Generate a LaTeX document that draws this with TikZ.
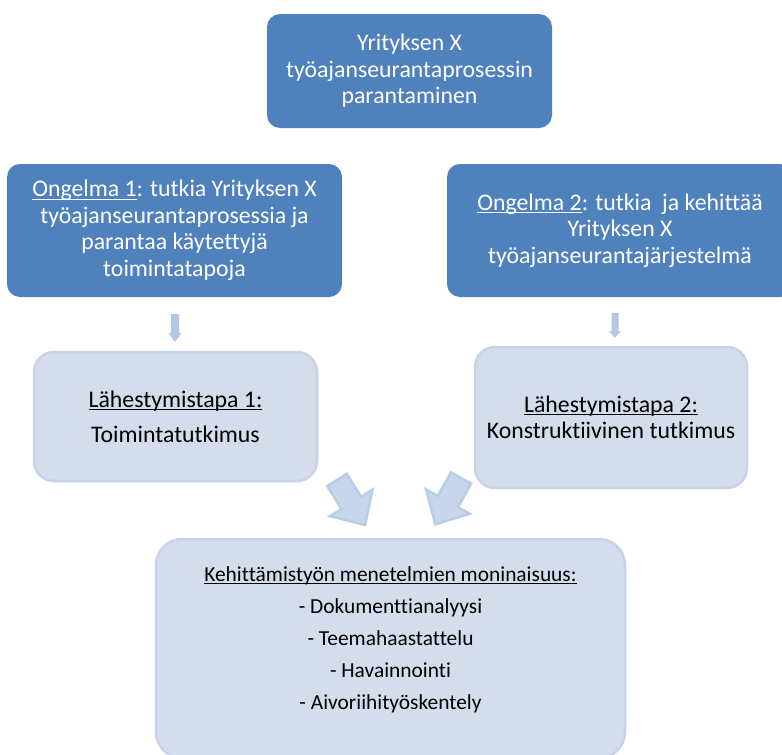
\documentclass[tikz,border=0pt]{standalone}
\usepackage{fontspec}
\setmainfont[Ligatures={NoCommon}]{Carlito}
\definecolor{darkblue}{HTML}{4F81BD}
\definecolor{paleblue}{HTML}{D5DCEB}
\definecolor{paleedge}{HTML}{C9D3E8}
\definecolor{arrowfill}{HTML}{C7D6ED}
\definecolor{arrowedge}{HTML}{BACCE6}
\definecolor{smallarrow}{HTML}{B4C7E7}
% underline at a fixed depth below the baseline
\newcommand\uln[1]{\setbox0\hbox{#1}\rlap{\rule[-3pt]{\wd0}{1.1pt}}\box0}
\tikzset{
  darkbox/.style={rectangle, rounded corners=13pt, fill=darkblue, draw=none,
    text=white, align=center, inner sep=0pt,
    font=\fontsize{23.8}{26.5}\selectfont},
  palebox/.style={rectangle, rounded corners=20pt, fill=paleblue, draw=paleedge,
    line width=2.5pt, text=black, align=center, inner sep=0pt,
    font=\fontsize{23.8}{26.5}\selectfont},
  bigarrow/.style={fill=arrowfill, draw=arrowedge, line width=2.5pt, line join=miter},
  thinarrow/.style={fill=smallarrow, draw=none},
}
\begin{document}
\begin{tikzpicture}[x=1pt, y=-1pt]
\useasboundingbox (0,0) rectangle (782,755);
\begin{scope}
\clip (0,0) rectangle (782,755);

% goal
\node[darkbox, minimum width=285pt, minimum height=114pt] (goal) at (409.5,71)
  {Yrityksen X\\työajanseurantaprosessin\\parantaminen};

% problems
\node[darkbox, minimum width=335pt, minimum height=133pt] (p1) at (174.5,230.5)
  {\uln{Ongelma 1}: tutkia Yrityksen X\\työajanseurantaprosessia ja\\parantaa käytettyjä\\toimintatapoja};
\node[darkbox, minimum width=346pt, minimum height=133pt] (p2) at (620,230.5)
  {\uln{Ongelma 2}: tutkia\ \ ja kehittää\\Yrityksen X\\työajanseurantajärjestelmä};

% approaches
\node[palebox, minimum width=283pt, minimum height=129pt] (a1) at (175.5,416.5)
  {\uln{Lähestymistapa 1:}\\[8.5pt]Toimintatutkimus};
\node[palebox, minimum width=272pt, minimum height=141pt] (a2) at (611,417.5)
  {\uln{Lähestymistapa 2:}\\Konstruktiivinen tutkimus};

% methods
\node[palebox, rounded corners=26pt, minimum width=469pt, minimum height=219pt] (m) at (390.5,648.5) {};
\node[align=center, inner sep=0pt, font=\fontsize{21.4}{32}\selectfont] (mtext) at (390.5,639.5)
  {\uln{Kehittämistyön menetelmien moninaisuus:}\\- Dokumenttianalyysi\\- Teemahaastattelu\\- Havainnointi\\- Aivoriihityöskentely};
\end{scope}

% small arrows from problems to approaches
\fill[thinarrow] (171,314) -- (179,314) -- (179,333) -- (181.5,333) -- (175,342)
  -- (168.5,333) -- (171,333) -- cycle;
\fill[thinarrow] (611.5,313) -- (618.5,313) -- (618.5,331) -- (621,331) -- (615,338)
  -- (609,331) -- (611.5,331) -- cycle;

% block arrows from approaches to methods
\begin{scope}[shift={(337,480)}, rotate=-58]
  \draw[bigarrow] (0,11.5) -- (27,11.5) -- (27,25) -- (53,0) -- (27,-25) -- (27,-11.5) -- (0,-11.5) -- cycle;
\end{scope}
\begin{scope}[shift={(461,478)}, rotate=-119]
  \draw[bigarrow] (0,11.5) -- (27,11.5) -- (27,25) -- (53,0) -- (27,-25) -- (27,-11.5) -- (0,-11.5) -- cycle;
\end{scope}
\end{tikzpicture}
\end{document}
